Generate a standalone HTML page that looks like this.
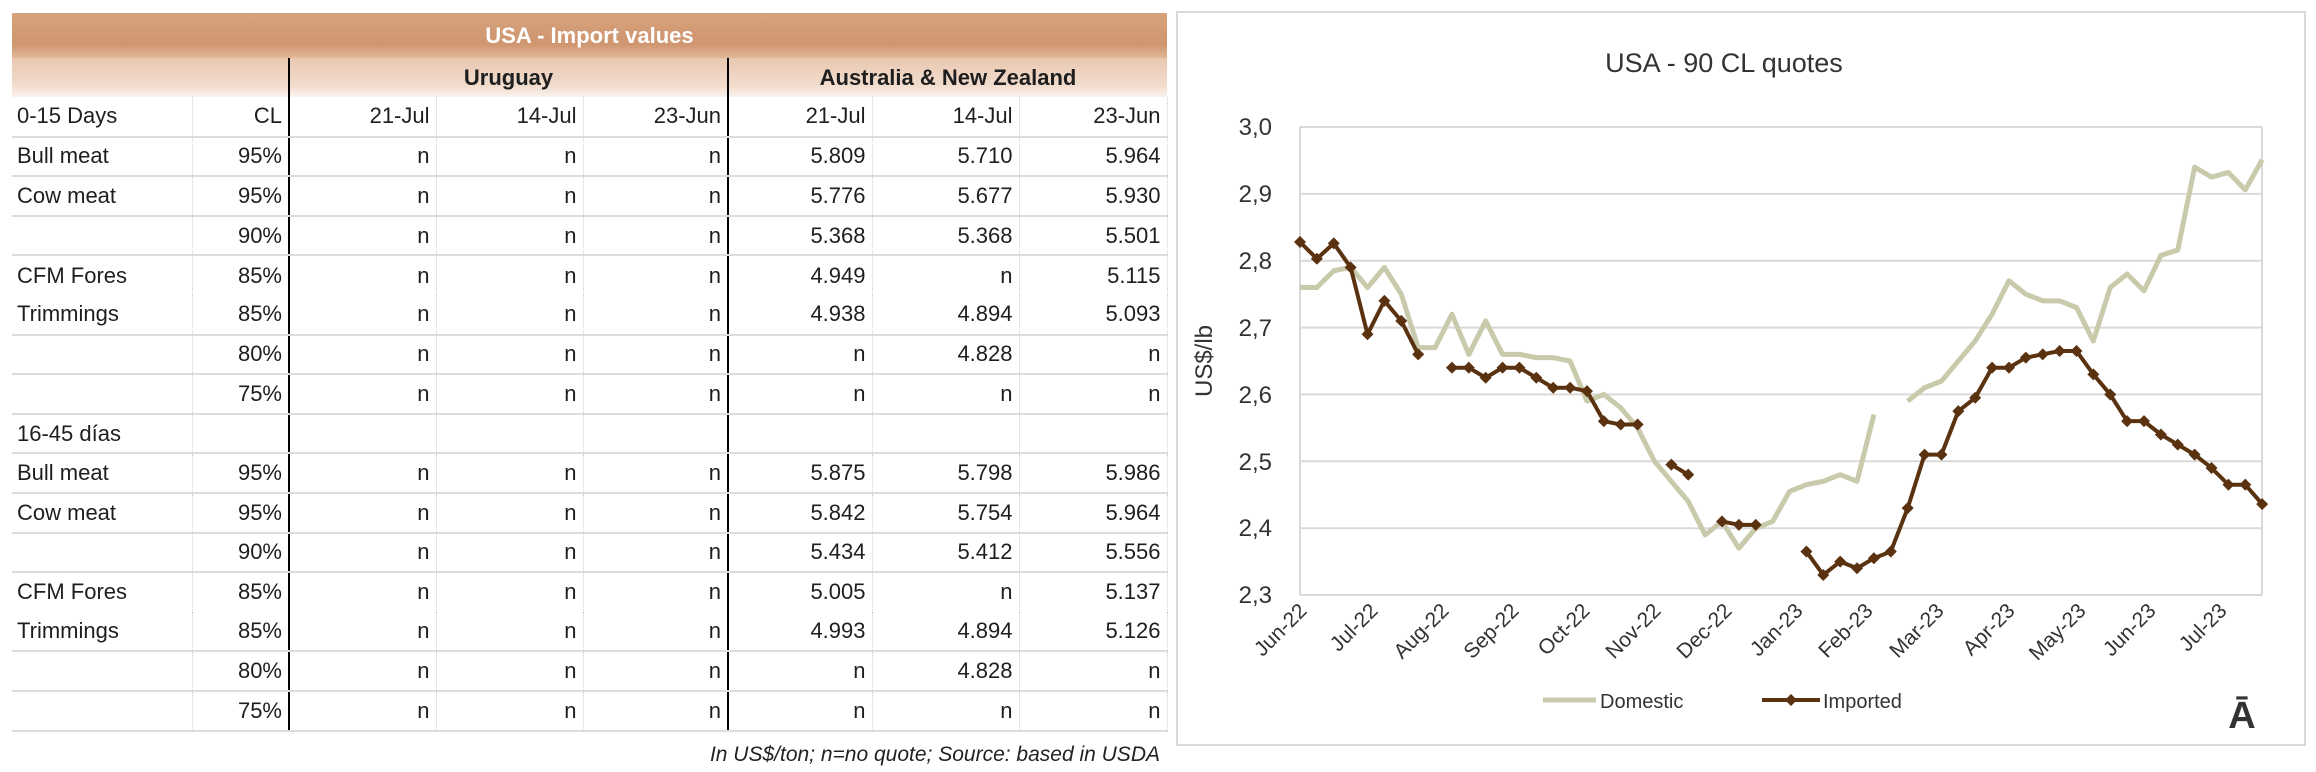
<!DOCTYPE html>
<html><head><meta charset="utf-8"><style>
body{margin:0;width:2316px;height:772px;background:#fff;position:relative;overflow:hidden;font-family:"Liberation Sans",Arial,sans-serif;}
table{position:absolute;left:12px;top:13px;border-collapse:collapse;table-layout:fixed;font-size:22px;color:#1e1e1e;}
td{padding:0 6px;white-space:nowrap;overflow:hidden;height:39.6px;box-sizing:border-box;text-align:right;border-bottom:2px solid #dcdcdc;border-right:1px dotted #d0d0d0;}
td.l{text-align:left;padding-left:5px;}
td.t{border-right:2px solid #000;}
tr.nb td{border-bottom:none;}
.title td{height:45px;background:linear-gradient(#d6a27c,#cf9670 70%,#e2b898);color:#fff;font-weight:bold;text-align:center;border:none;font-size:22px;}
.hdr td{height:39px;background:linear-gradient(#e9c8b0,#f1dccd 70%,#fbf3ee);font-weight:bold;text-align:center;border-right:none;border-bottom:none;}
.foot{position:absolute;right:1156px;top:743px;font-size:21px;font-style:italic;color:#222;}
</style></head><body>
<table>
<colgroup><col style="width:180px"><col style="width:97px"><col style="width:147px"><col style="width:147px"><col style="width:145px"><col style="width:144px"><col style="width:147px"><col style="width:148px"></colgroup>
<tr class="title"><td colspan="8">USA - Import values</td></tr>
<tr class="hdr"><td style="border:none"></td><td style="border-right:2px solid #000"></td><td colspan="3" style="border-right:2px solid #000">Uruguay</td><td colspan="3">Australia &amp; New Zealand</td></tr>
<tr><td class="l">0-15 Days</td><td class="t">CL</td><td>21-Jul</td><td>14-Jul</td><td class="t">23-Jun</td><td>21-Jul</td><td>14-Jul</td><td>23-Jun</td></tr>
<tr><td class="l">Bull meat</td><td class="t">95%</td><td>n</td><td>n</td><td class="t">n</td><td>5.809</td><td>5.710</td><td>5.964</td></tr>
<tr><td class="l">Cow meat</td><td class="t">95%</td><td>n</td><td>n</td><td class="t">n</td><td>5.776</td><td>5.677</td><td>5.930</td></tr>
<tr><td class="l"></td><td class="t">90%</td><td>n</td><td>n</td><td class="t">n</td><td>5.368</td><td>5.368</td><td>5.501</td></tr>
<tr class="nb"><td class="l">CFM Fores</td><td class="t">85%</td><td>n</td><td>n</td><td class="t">n</td><td>4.949</td><td>n</td><td>5.115</td></tr>
<tr><td class="l">Trimmings</td><td class="t">85%</td><td>n</td><td>n</td><td class="t">n</td><td>4.938</td><td>4.894</td><td>5.093</td></tr>
<tr><td class="l"></td><td class="t">80%</td><td>n</td><td>n</td><td class="t">n</td><td>n</td><td>4.828</td><td>n</td></tr>
<tr><td class="l"></td><td class="t">75%</td><td>n</td><td>n</td><td class="t">n</td><td>n</td><td>n</td><td>n</td></tr>
<tr><td class="l">16-45 días</td><td class="t"></td><td></td><td></td><td class="t"></td><td></td><td></td><td></td></tr>
<tr><td class="l">Bull meat</td><td class="t">95%</td><td>n</td><td>n</td><td class="t">n</td><td>5.875</td><td>5.798</td><td>5.986</td></tr>
<tr><td class="l">Cow meat</td><td class="t">95%</td><td>n</td><td>n</td><td class="t">n</td><td>5.842</td><td>5.754</td><td>5.964</td></tr>
<tr><td class="l"></td><td class="t">90%</td><td>n</td><td>n</td><td class="t">n</td><td>5.434</td><td>5.412</td><td>5.556</td></tr>
<tr class="nb"><td class="l">CFM Fores</td><td class="t">85%</td><td>n</td><td>n</td><td class="t">n</td><td>5.005</td><td>n</td><td>5.137</td></tr>
<tr><td class="l">Trimmings</td><td class="t">85%</td><td>n</td><td>n</td><td class="t">n</td><td>4.993</td><td>4.894</td><td>5.126</td></tr>
<tr><td class="l"></td><td class="t">80%</td><td>n</td><td>n</td><td class="t">n</td><td>n</td><td>4.828</td><td>n</td></tr>
<tr><td class="l"></td><td class="t">75%</td><td>n</td><td>n</td><td class="t">n</td><td>n</td><td>n</td><td>n</td></tr>
</table>
<div class="foot">In US$/ton; n=no quote; Source: based in USDA</div>

<svg width="2316" height="772" style="position:absolute;left:0;top:0" xmlns="http://www.w3.org/2000/svg" font-family="Liberation Sans, Arial, sans-serif">
<rect x="1177" y="12" width="1128" height="733" fill="none" stroke="#d9d9d9" stroke-width="2"/>
<text x="1724" y="72" text-anchor="middle" font-size="27" fill="#333">USA - 90 CL quotes</text>
<g stroke="#d9d9d9" stroke-width="2">
<line x1="1300" y1="127" x2="2262" y2="127"/><line x1="1300" y1="193.9" x2="2262" y2="193.9"/>
<line x1="1300" y1="260.7" x2="2262" y2="260.7"/><line x1="1300" y1="327.6" x2="2262" y2="327.6"/>
<line x1="1300" y1="394.4" x2="2262" y2="394.4"/><line x1="1300" y1="461.3" x2="2262" y2="461.3"/>
<line x1="1300" y1="528.2" x2="2262" y2="528.2"/><line x1="1300" y1="595" x2="2262" y2="595"/>
<line x1="1300" y1="127" x2="1300" y2="595"/><line x1="2262" y1="127" x2="2262" y2="595"/>
</g>
<g font-size="24" fill="#333" text-anchor="end">
<text x="1272" y="135">3,0</text><text x="1272" y="202">2,9</text><text x="1272" y="269">2,8</text>
<text x="1272" y="336">2,7</text><text x="1272" y="403">2,6</text><text x="1272" y="470">2,5</text>
<text x="1272" y="536">2,4</text><text x="1272" y="603">2,3</text>
</g>
<text transform="translate(1212,361) rotate(-90)" text-anchor="middle" font-size="24" fill="#333">US$/lb</text>
<g font-size="21" fill="#333" text-anchor="end">
<text transform="translate(1308,612) rotate(-45)">Jun-22</text>
<text transform="translate(1379,612) rotate(-45)">Jul-22</text>
<text transform="translate(1450,612) rotate(-45)">Aug-22</text>
<text transform="translate(1520,612) rotate(-45)">Sep-22</text>
<text transform="translate(1591,612) rotate(-45)">Oct-22</text>
<text transform="translate(1662,612) rotate(-45)">Nov-22</text>
<text transform="translate(1733,612) rotate(-45)">Dec-22</text>
<text transform="translate(1804,612) rotate(-45)">Jan-23</text>
<text transform="translate(1874,612) rotate(-45)">Feb-23</text>
<text transform="translate(1945,612) rotate(-45)">Mar-23</text>
<text transform="translate(2016,612) rotate(-45)">Apr-23</text>
<text transform="translate(2087,612) rotate(-45)">May-23</text>
<text transform="translate(2157,612) rotate(-45)">Jun-23</text>
<text transform="translate(2228,612) rotate(-45)">Jul-23</text>
</g>
<defs>
<marker id="d" markerUnits="userSpaceOnUse" markerWidth="0.71" markerHeight="0.018" refX="5" refY="5" viewBox="0 0 10 10" preserveAspectRatio="none">
<path d="M5 0 L10 5 L5 10 L0 5 Z" fill="#5a3210"/></marker>
</defs>
<g transform="matrix(16.88 0 0 -668.6 1300 2132.8)" fill="none" stroke-linejoin="round">
<g stroke="#c9c9ab" stroke-width="5" vector-effect="non-scaling-stroke">
<polyline vector-effect="non-scaling-stroke" points="0,2.76 1,2.76 2,2.785 3,2.79 4,2.76 5,2.79 6,2.75 7,2.67 8,2.67 9,2.72 10,2.66 11,2.71 12,2.66 13,2.66 14,2.655 15,2.655 16,2.65 17,2.59 18,2.60 19,2.58 20,2.55 21,2.50 22,2.47 23,2.44 24,2.39 25,2.41 26,2.37 27,2.40 28,2.41 29,2.455 30,2.465 31,2.47 32,2.48 33,2.47 34,2.57"/>
<polyline vector-effect="non-scaling-stroke" points="36,2.59 37,2.61 38,2.62 39,2.65 40,2.68 41,2.72 42,2.77 43,2.75 44,2.74 45,2.74 46,2.73 47,2.68 48,2.76 49,2.78 50,2.755 51,2.808 52,2.816 53,2.94 54,2.925 55,2.932 56,2.906 57,2.951"/>
</g>
<g stroke="#5a3210" stroke-width="4" marker-start="url(#d)" marker-mid="url(#d)" marker-end="url(#d)">
<polyline vector-effect="non-scaling-stroke" marker-start="url(#d)" marker-mid="url(#d)" marker-end="url(#d)" points="0,2.828 1,2.803 2,2.826 3,2.79 4,2.69 5,2.74 6,2.71 7,2.66"/>
<polyline vector-effect="non-scaling-stroke" marker-start="url(#d)" marker-mid="url(#d)" marker-end="url(#d)" points="9,2.64 10,2.64 11,2.625 12,2.64 13,2.64 14,2.625 15,2.61 16,2.61 17,2.605 18,2.56 19,2.555 20,2.555"/>
<polyline vector-effect="non-scaling-stroke" marker-start="url(#d)" marker-end="url(#d)" points="22,2.495 23,2.48"/>
<polyline vector-effect="non-scaling-stroke" marker-start="url(#d)" marker-mid="url(#d)" marker-end="url(#d)" points="25,2.41 26,2.405 27,2.405"/>
<polyline vector-effect="non-scaling-stroke" marker-start="url(#d)" marker-mid="url(#d)" marker-end="url(#d)" points="30,2.365 31,2.33 32,2.35 33,2.34 34,2.355 35,2.365 36,2.43 37,2.51 38,2.51 39,2.575 40,2.595 41,2.64 42,2.64 43,2.655 44,2.66 45,2.665 46,2.665 47,2.63 48,2.60 49,2.56 50,2.56 51,2.54 52,2.525 53,2.51 54,2.49 55,2.465 56,2.465 57,2.436"/>
</g>
</g>
<line x1="1543" y1="700" x2="1596" y2="700" stroke="#c9c9ab" stroke-width="5"/>
<text x="1600" y="708" font-size="20" fill="#333">Domestic</text>
<line x1="1762" y1="700" x2="1820" y2="700" stroke="#5a3210" stroke-width="4"/>
<path d="M1791 694 L1797 700 L1791 706 L1785 700 Z" fill="#5a3210"/>
<text x="1823" y="708" font-size="20" fill="#333">Imported</text>
<text x="2242" y="728" text-anchor="middle" font-size="38" font-weight="bold" fill="#333">Ā</text>
</svg>
</body></html>
